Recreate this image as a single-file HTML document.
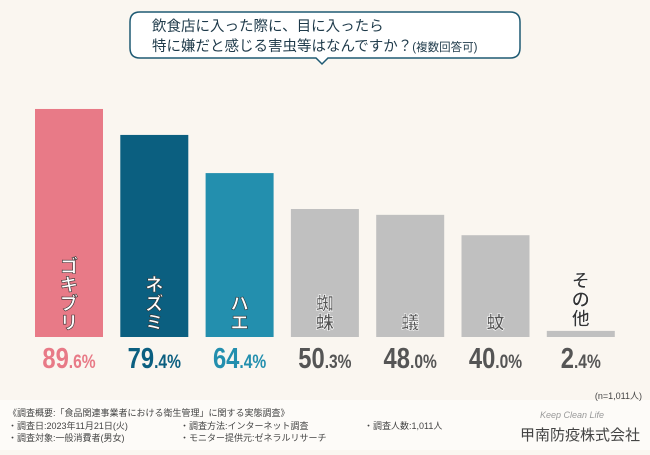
<!DOCTYPE html>
<html><head><meta charset="utf-8"><style>
body{margin:0;width:650px;height:450px;overflow:hidden;background:#faf6f0;font-family:"Liberation Sans","Noto Sans CJK JP",sans-serif;}
#wrap{position:relative;width:650px;height:450px;}
svg text{font-family:"Liberation Sans","Noto Sans CJK JP",sans-serif;}
</style></head><body><div id="wrap">
<svg id="chart" width="650" height="450">
<rect x="0" y="400" width="650" height="50" fill="#fdfbf8"/>
<g>
<path d="M140,12 H510 Q520,12 520,22 V48 Q520,58 510,58 H328 L322,64 L316,58 H140 Q130,58 130,48 V22 Q130,12 140,12 Z" fill="#fff" stroke="#1e5a73" stroke-width="1.5"/>
<text x="152" y="31" font-size="14.5" fill="#1e3a4a">飲食店に入った際に、目に入ったら</text>
<text x="152" y="51" font-size="14.5" fill="#1e3a4a">特に嫌だと感じる害虫等はなんですか？<tspan font-size="11.5">(複数回答可)</tspan></text>
</g>
<g id="bars"></g>
<text x="642" y="399" font-size="9" fill="#444" text-anchor="end">(n=1,011人)</text>
<g font-size="9" fill="#444">
<text x="8" y="416">《調査概要:「食品関連事業者における衛生管理」に関する実態調査》</text>
<text x="8" y="429">・調査日:2023年11月21日(火)</text>
<text x="8" y="441">・調査対象:一般消費者(男女)</text>
<text x="180" y="429">・調査方法:インターネット調査</text>
<text x="180" y="441">・モニター提供元:ゼネラルリサーチ</text>
<text x="364" y="429">・調査人数:1,011人</text>
</g>
<text x="572" y="418" font-size="9" font-style="italic" fill="#999" text-anchor="middle" font-family="Liberation Serif,serif">Keep Clean Life</text>
<text x="580" y="440" font-size="15" fill="#444" text-anchor="middle">甲南防疫株式会社</text>
</svg>
<script>
const categories=["ゴキブリ","ネズミ","ハエ","蜘蛛","蟻","蚊","その他"];
const values=[89.6,79.4,64.4,50.3,48.0,40.0,2.4];
const barColors=["#e87a87","#0b5f80","#238fae","#c0c0c0","#c0c0c0","#c0c0c0","#c0c0c0"];
const valueColors=["#e87a87","#0b5f80","#238fae","#555","#555","#555","#555"];
const base=337,scale=2.545,x0=35,step=85.3,bw=68;
const y=v=>base-v*scale;
const g=document.getElementById('bars');
const NS="http://www.w3.org/2000/svg";
categories.forEach((c,i)=>{
  const x=x0+i*step;
  const r=document.createElementNS(NS,'rect');
  r.setAttribute('x',x);r.setAttribute('y',y(values[i]));r.setAttribute('width',bw);r.setAttribute('height',base-y(values[i]));r.setAttribute('fill',barColors[i]);
  
  
  g.appendChild(r);
  const chars=[...c];const fs=18;
  const grey=i>=3;
  const t=document.createElementNS(NS,'text');
  t.setAttribute('text-anchor','middle');t.setAttribute('font-size',fs);t.setAttribute('font-weight','bold');
  t.setAttribute('fill',i==6?'#333':(grey?'#555':'#fff'));
  t.setAttribute('stroke',grey?'#fff':'#333');t.setAttribute('stroke-width','0.6');
  
  
  const bottom=i==6?y(values[i])-6:base-8;
  chars.forEach((ch,k)=>{
    const s=document.createElementNS(NS,'tspan');
    s.setAttribute('x',x+bw/2);s.setAttribute('y',bottom-(chars.length-1-k)*fs*1.05);
    s.textContent=ch;t.appendChild(s);
  });
  g.appendChild(t);
  const v=document.createElementNS(NS,'text');
  const parts=values[i].toFixed(1).split('.');
  v.setAttribute('x',(x+bw/2)/0.82);v.setAttribute('y',368);v.setAttribute('text-anchor','middle');
  v.setAttribute('transform','scale(0.82,1)');v.setAttribute('fill',valueColors[i]);v.setAttribute('font-weight','bold');
  v.innerHTML='<tspan font-size="29">'+parts[0]+'</tspan><tspan font-size="19">.'+parts[1]+'%</tspan>';
  
  
  g.appendChild(v);
});
</script>
</div></body></html>
